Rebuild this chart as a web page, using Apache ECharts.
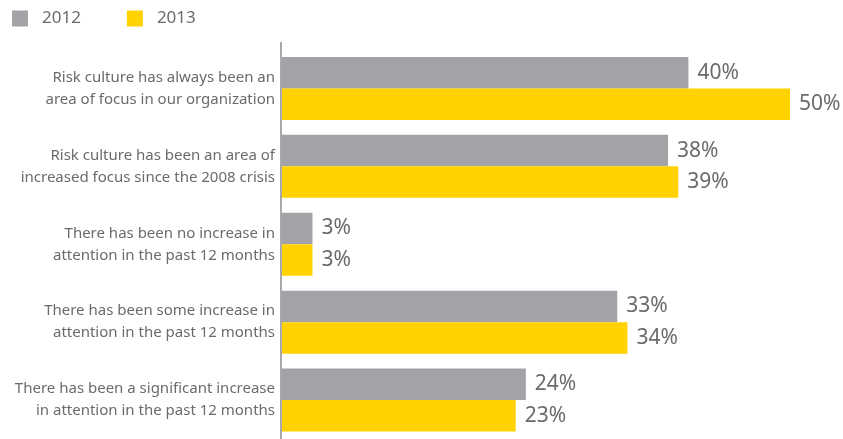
<!DOCTYPE html>
<html>
<head>
<meta charset="utf-8">
<script src="https://cdn.jsdelivr.net/npm/echarts@6/dist/echarts.min.js"></script>
<style>
  html, body { margin: 0; padding: 0; background: #fff; }
  #chart { width: 843px; height: 439px; }
</style>
</head>
<body>
<div id="chart"></div>
<script>
// Survey statements (top to bottom)
const categories = [
  'Risk culture has always been an\narea of focus in our organization',
  'Risk culture has been an area of\nincreased focus since the 2008 crisis',
  'There has been no increase in\nattention in the past 12 months',
  'There has been some increase in\nattention in the past 12 months',
  'There has been a significant increase\nin attention in the past 12 months'
];
const seriesNames = ['2012', '2013'];
const values2012 = [40, 38, 3, 33, 24];
const values2013 = [50, 39, 3, 34, 23];

const GRAY = '#a3a2a7';
const YELLOW = '#ffd200';
const TEXT = '#6a6b6e';
const FONT = '"Noto Sans", "Open Sans", sans-serif';

const chart = echarts.init(document.getElementById('chart'), null, { renderer: 'canvas' });

const valueLabel = {
  show: true,
  position: 'right',
  distance: 9,
  formatter: '{c}%',
  color: TEXT,
  fontFamily: FONT,
  fontSize: 21
};

chart.setOption({
  animation: false,
  backgroundColor: '#ffffff',
  legend: {
    data: seriesNames,
    left: 12,
    top: 10,
    padding: 0,
    itemWidth: 16,
    itemHeight: 16,
    itemGap: 46,
    icon: 'rect',
    textStyle: { color: TEXT, fontFamily: FONT, fontSize: 17, padding: [0, 0, 0, 9] }
  },
  grid: { left: 282, top: 49.5, width: 508, height: 392 },
  xAxis: {
    type: 'value',
    min: 0,
    max: 50,
    show: false
  },
  yAxis: {
    type: 'category',
    data: categories,
    inverse: true,
    axisLine: { show: false },
    axisTick: { show: false },
    splitLine: { show: false },
    axisLabel: {
      margin: 7,
      color: TEXT,
      fontFamily: FONT,
      fontSize: 15,
      lineHeight: 22,
      align: 'right'
    }
  },
  graphic: [{
    type: 'line',
    shape: { x1: 281, y1: 42, x2: 281, y2: 439 },
    style: { stroke: '#a9a9ab', lineWidth: 2 },
    silent: true
  }],
  series: [
    {
      name: seriesNames[0],
      type: 'bar',
      data: values2012,
      barWidth: 31.5,
      barGap: 0,
      itemStyle: { color: GRAY },
      label: valueLabel
    },
    {
      name: seriesNames[1],
      type: 'bar',
      data: values2013,
      barWidth: 31.5,
      barGap: 0,
      itemStyle: { color: YELLOW },
      label: valueLabel
    }
  ]
});
</script>
</body>
</html>
